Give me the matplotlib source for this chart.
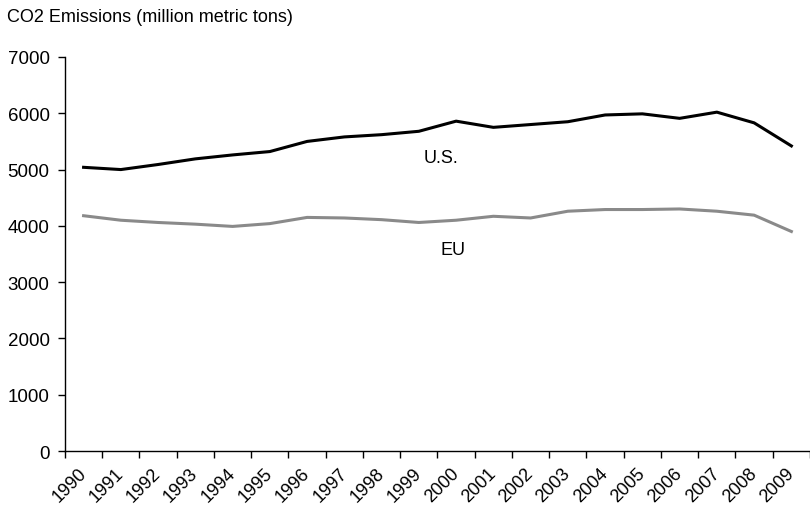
import matplotlib.pyplot as plt
import matplotlib.transforms as mtransforms
from matplotlib.ticker import FixedLocator

plt.rcParams['font.family'] = ['Liberation Sans', 'DejaVu Sans']

years = [str(y) for y in range(1990, 2010)]
us = [5040, 5000, 5090, 5190, 5260, 5320, 5500, 5580, 5620, 5680,
      5860, 5750, 5800, 5850, 5970, 5990, 5910, 6020, 5830, 5420]
eu = [4180, 4100, 4060, 4030, 3990, 4040, 4150, 4140, 4110, 4060,
      4100, 4170, 4140, 4260, 4290, 4290, 4300, 4260, 4190, 3900]

fig = plt.figure(figsize=(8.1, 5.06), dpi=100)
ax = fig.add_axes([0.0802, 0.1067, 0.9198, 0.7787])

x = list(range(len(years)))
ax.plot(x, us, color='black', linewidth=2.2, solid_joinstyle='round')
ax.plot(x, eu, color='#8a8a8a', linewidth=2.2, solid_joinstyle='round')

ax.text(9.6, 5220, "U.S.", fontsize=13, ha='center', va='center')
ax.text(9.92, 3580, "EU", fontsize=13, ha='center', va='center')

ax.set_xlim(-0.5, 19.5)
ax.set_ylim(0, 7000)
ax.set_yticks(range(0, 7001, 1000))
ax.tick_params(axis='y', labelsize=13.5, length=5, width=1, direction='out', pad=6)

ax.set_xticks(x)
ax.set_xticklabels(years, rotation=45, ha='right', va='center',
                   rotation_mode='anchor', fontsize=13)
# nudge the rotated year labels a little to the right, like the original
offset = mtransforms.ScaledTranslation(4 / 100, -2 / 100, fig.dpi_scale_trans)
for lbl in ax.get_xticklabels():
    lbl.set_transform(lbl.get_transform() + offset)
ax.xaxis.set_minor_locator(FixedLocator([i - 0.5 for i in range(21)]))
ax.tick_params(axis='x', which='major', length=0, pad=14)
ax.tick_params(axis='x', which='minor', length=5, width=1, direction='out')

for side in ['top', 'right']:
    ax.spines[side].set_visible(False)
for side in ['left', 'bottom']:
    ax.spines[side].set_linewidth(1)

fig.text(0.009, 0.966, "CO2 Emissions (million metric tons)", fontsize=13,
         ha='left', va='center')

fig.savefig("out.png", dpi=100)
